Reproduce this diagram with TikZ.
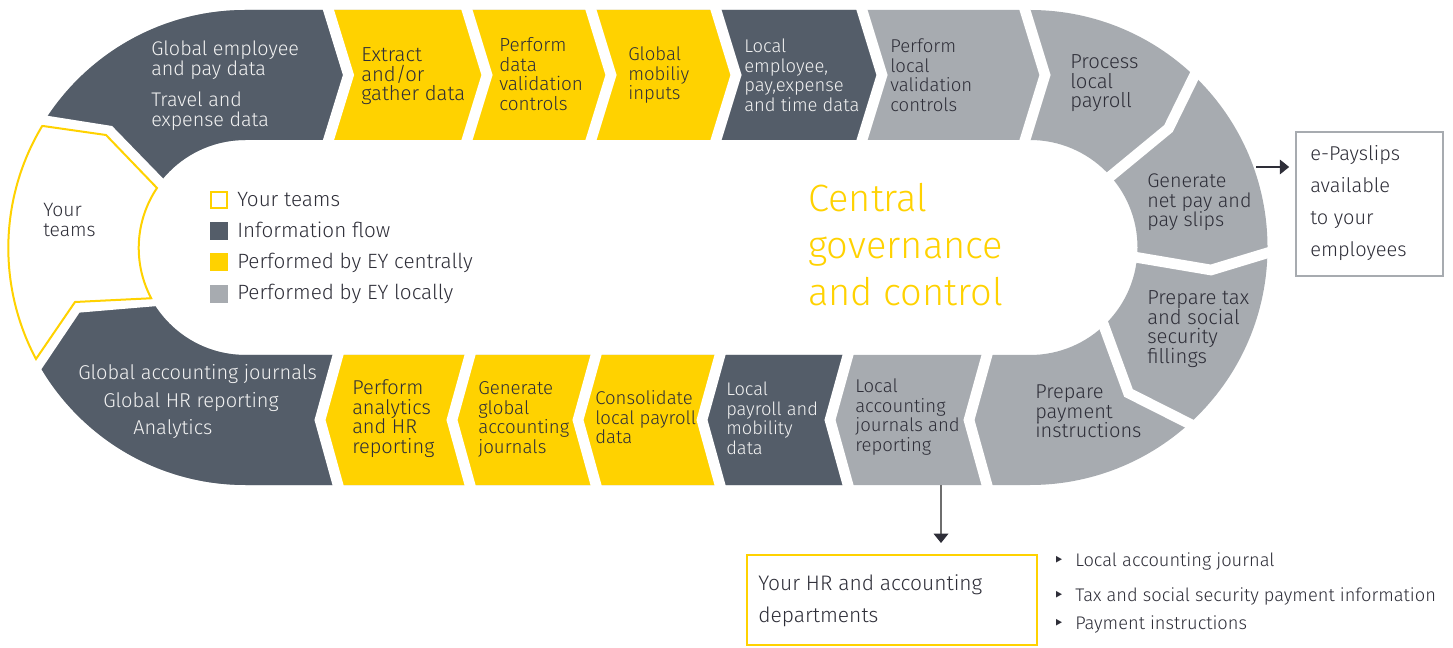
\documentclass[tikz,border=0pt]{standalone}
\usepackage{fontspec}
\setmainfont{Fira Sans Light}
\newfontfamily\dejavu{DejaVu Sans}
\usetikzlibrary{arrows.meta}
\definecolor{eyyellow}{RGB}{255,210,0}
\definecolor{eydark}{RGB}{84,93,105}
\definecolor{eygray}{RGB}{167,171,176}
\definecolor{txtdark}{RGB}{46,46,56}
\definecolor{txtlight}{RGB}{242,242,242}
\definecolor{linegray}{RGB}{110,110,110}
\newcommand\ml[1]{\vtop{\lineskiplimit=-50pt\lineskip=0pt\halign{##\hfil\cr#1\crcr}}}
\newcommand\ringpath{(245.5,10) -- (1030,10) arc[start angle=-90,end angle=90,radius=237.5] -- (245.5,485) arc[start angle=90,end angle=270,radius=237.5] -- cycle (245.5,140) -- (1030,140) arc[start angle=-90,end angle=90,radius=107.5] -- (245.5,355) arc[start angle=90,end angle=270,radius=107.5] -- cycle}
\begin{document}
\begin{tikzpicture}[x=0.75pt,y=-0.75pt,
  lbl/.style={anchor=base west,inner sep=0pt,font=\fontsize{#1}{14.6}\selectfont,text=txtdark},
  lbl/.default=14.2,
  lbw/.style={lbl=#1,text=txtlight},
  lbw/.default=14.2,
  gap/.style={draw=white,line width=8pt,line join=miter},
  legsq/.style={minimum size=13.5pt,inner sep=0pt},
  arr/.style={draw=linegray,line width=1pt,-{Triangle[length=7pt,width=11pt,color=txtdark]}}
]
\fill[white] (0,0) rectangle (1453,648);
\useasboundingbox (0,0) rectangle (1453,648);
% ring base (locally performed, gray)
\fill[eygray,even odd rule] \ringpath;
% dark top-left piece
\begin{scope}
\clip (245.5,247.5) -- (160,183) -- (109.5,131) -- (46,121) -- (-25,76) -- (-40,-40) -- (328.5,-40) -- (328.5,10) -- (348.5,75) -- (328.5,140) -- (328.5,247.5) -- cycle;
\fill[eydark,even odd rule] \ringpath;
\end{scope}
% dark bottom-left piece
\begin{scope}
\clip (245.5,247.5) -- (153,301) -- (76.5,307.5) -- (39.5,362.5) -- (-34,403) -- (-40,540) -- (338,540) -- (338,485) -- (320,420) -- (338,355) -- (338,247.5) -- cycle;
\fill[eydark,even odd rule] \ringpath;
\end{scope}
% straight pieces
\fill[eyyellow] (328.5,10) -- (716,10) -- (736,75) -- (716,140) -- (328.5,140) -- (348.5,75) -- cycle;
\fill[eydark] (716,10) -- (862,10) -- (882,75) -- (862,140) -- (716,140) -- (736,75) -- cycle;
\fill[eyyellow] (338,355) -- (720,355) -- (702,420) -- (720,485) -- (338,485) -- (320,420) -- cycle;
\fill[eydark] (720,355) -- (848,355) -- (830,420) -- (848,485) -- (720,485) -- (702,420) -- cycle;
% your teams area
\fill[white] (245.5,247.5) -- (160,183) -- (109.5,131) -- (46,121) -- (-25,76) -- (-60,76) -- (-60,403) -- (-34,403) -- (39.5,362.5) -- (76.5,307.5) -- (153,301) -- cycle;
% gaps
\foreach \X in {328.5,467,591,716,862,1025} \draw[gap] ({\X-3.08},0) -- ({\X+20},75) -- ({\X-3.08},150);
\foreach \X in {338,470,596,720,848,987} \draw[gap] ({\X+2.77},345) -- ({\X-18},420) -- ({\X+2.77},495);
\draw[gap] (1104.3,181.4) -- (1168.5,128.5) -- (1197.9,68.5);
\draw[gap] (1130.1,256.3) -- (1211,270) -- (1276.6,250.1);
\draw[gap] (1101.1,318.1) -- (1128.5,393) -- (1196.9,427.5);
\draw[gap] (167,190.2) -- (109.5,131) -- (36.1,119.4);
\draw[gap] (163,300.2) -- (76.5,307.5) -- (33.9,370.8);
% your teams outline
\draw[eyyellow,line width=1.5pt,line join=miter] (43,126) -- (106,135) -- (157,188) arc[start angle=213.9,end angle=152.1,radius=107.5] -- (75,302) -- (36,359) arc[start angle=152,end angle=211,radius=236.5] -- cycle;
% labels
\node[lbw=14.8] (ge1) at (151,56) {\ml{Global employee\cr and pay data}};
\node[lbw=14.8] (ge2) at (151,107) {\ml{Travel and\cr expense data}};
\node[lbl=15.2] (ext) at (361,62) {\ml{Extract\cr and/or\cr gather data}};
\node[lbl=14.2] (pdv) at (499,52) {\ml{Perform\cr data\cr validation\cr controls}};
\node[lbl=13.9] (gmi) at (628,61) {\ml{Global\cr mobiliy\cr inputs}};
\node[lbw=13.8] (lem) at (744,53) {\ml{Local\cr employee,\cr pay,expense\cr and time data}};
\node[lbl=13.9] (plv) at (890,53) {\ml{Perform\cr local\cr validation\cr controls}};
\node[lbl=15.2] (plp) at (1070,69) {\ml{Process\cr local\cr payroll}};
\node[lbl=14.8] (gnp) at (1147,188) {\ml{Generate\cr net pay and\cr pay slips}};
\node[lbl=15.2] (ptx) at (1147,305) {\ml{Prepare tax\cr and social\cr security\cr fillings}};
\node[lbl=15] (ppi) at (1035,399) {\ml{Prepare\cr payment\cr instructions}};
\node[lbl=13.9] (laj) at (855,393) {\ml{Local\cr accounting\cr journals and\cr reporting}};
\node[lbw=13.7] (lpm) at (726,396) {\ml{Local\cr payroll and\cr mobility\cr data}};
\node[lbl=13.9] (clp) at (595,405) {\ml{Consolidate\cr local payroll\cr data}};
\node[lbl=14] (gga) at (478,395) {\ml{Generate\cr global\cr accounting\cr journals}};
\node[lbl=15] (pah) at (352,395) {\ml{Perform\cr analytics\cr and HR\cr reporting}};
\node[lbw=15] (ga1) at (78,380) {Global accounting journals};
\node[lbw=15] (ga2) at (103,408) {Global HR reporting};
\node[lbw=15] (ga3) at (133,435) {Analytics};
\node[lbl=14.5] (yt) at (43,217) {\ml{Your\cr teams}};
% legend
\node[legsq,draw=eyyellow,line width=1.5pt,fill=white,minimum size=12pt] (lg1) at (219,200) {};
\node[legsq,fill=eydark] (lg2) at (219,231.5) {};
\node[legsq,fill=eyyellow] (lg3) at (219,262.5) {};
\node[legsq,fill=eygray] (lg4) at (219,294) {};
\node[lbl=15.5] (lt1) at (237,207) {Your teams};
\node[lbl=15.5] (lt2) at (237,238) {Information flow};
\node[lbl=15.5] (lt3) at (237,269) {Performed by EY centrally};
\node[lbl=15.5] (lt4) at (237,300) {Performed by EY locally};
% central text
\node[lbl,text=eyyellow,font=\fontsize{28.5}{35.25}\selectfont] (cgc) at (808,212) {\ml{Central\cr governance\cr and control}};
% e-payslips
\coordinate (gnpout) at (1256,167);
\node[draw=eygray,line width=1.5pt,minimum width=110pt,minimum height=108pt,inner sep=0pt] (epay) at (1369.5,204) {};
\node[lbl,font=\fontsize{15}{24}\selectfont] (epaytxt) at (1310,161) {\ml{e-Payslips\cr available\cr to your\cr employees}};
\draw[arr,draw=txtdark,shorten >=4.5pt] (gnpout) -- (gnpout -| epay.west);
% HR box
\coordinate (lajout) at (941,485);
\node[draw=eyyellow,line width=1.5pt,minimum width=217.5pt,minimum height=68pt,inner sep=0pt] (hr) at (892,600) {};
\node[lbl,font=\fontsize{15.75}{24}\selectfont] (hrtxt) at (758,590) {\ml{Your HR and accounting\cr departments}};
\draw[arr,shorten >=8pt] (lajout) -- (lajout |- hr.north);
% bullets
\node[lbl=13.7] (bl1) at (1053,566) {\makebox[16.5pt][l]{\dejavu\char"2023}Local accounting journal};
\node[lbl=13.7] (bl2) at (1053,601) {\makebox[16.5pt][l]{\dejavu\char"2023}Tax and social security payment information};
\node[lbl=13.7] (bl3) at (1053,629) {\makebox[16.5pt][l]{\dejavu\char"2023}Payment instructions};
\end{tikzpicture}
\end{document}
